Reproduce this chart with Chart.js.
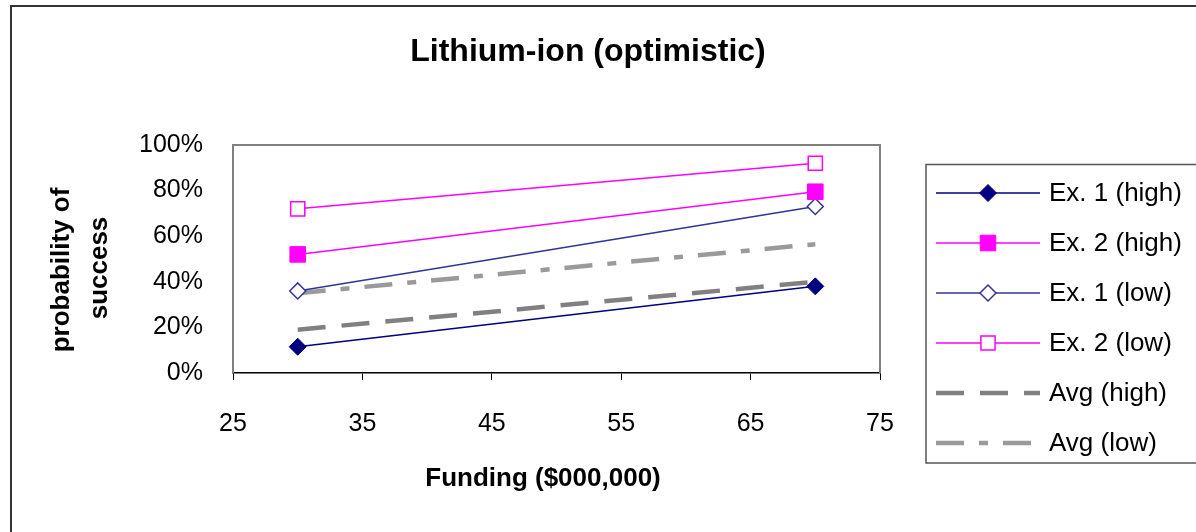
<!DOCTYPE html>
<html>
<head>
<meta charset="utf-8">
<title>Lithium-ion (optimistic)</title>
<script src="https://cdn.jsdelivr.net/npm/chart.js@4/dist/chart.umd.min.js"></script>
<style>
  html, body { margin: 0; padding: 0; background: #ffffff; }
  #wrap { width: 1196px; height: 532px; }
  canvas { display: block; }
</style>
</head>
<body>
<div id="wrap"><canvas id="c" width="1196" height="532"></canvas></div>
<script>
// Funding levels ($000,000) and probability of success (%) per expert scenario
const funding   = [30, 70];
const ex1High   = [11.5, 38];
const ex2High   = [52, 79.5];
const ex1Low    = [36, 73];
const ex2Low    = [72, 92];
const avgHigh   = [19, 40];
const avgLow    = [35, 56.5];

const seriesNames = ['Ex. 1 (high)', 'Ex. 2 (high)', 'Ex. 1 (low)', 'Ex. 2 (low)', 'Avg (high)', 'Avg (low)'];
const xTicks = [25, 35, 45, 55, 65, 75];
const yTicks = [0, 20, 40, 60, 80, 100];

const FONT = 'Arial, "Liberation Sans", Helvetica, sans-serif';

function pts(vals) {
  return vals.map((v, i) => ({ x: funding[i], y: v }));
}

const datasets = [
  { label: seriesNames[0], data: pts(ex1High), borderColor: '#000080', borderWidth: 1.5,
    pointStyle: 'rectRot', pointRadius: 8.5, pointBackgroundColor: '#000080', pointBorderColor: '#000080', pointBorderWidth: 1 },
  { label: seriesNames[1], data: pts(ex2High), borderColor: '#ff00ff', borderWidth: 1.5,
    pointStyle: 'rect', pointRadius: 11, pointBackgroundColor: '#ff00ff', pointBorderColor: '#ff00ff', pointBorderWidth: 1 },
  { label: seriesNames[2], data: pts(ex1Low), borderColor: '#333399', borderWidth: 1.5,
    pointStyle: 'rectRot', pointRadius: 8, pointBackgroundColor: '#ffffff', pointBorderColor: '#333399', pointBorderWidth: 1.5 },
  { label: seriesNames[3], data: pts(ex2Low), borderColor: '#ff00ff', borderWidth: 1.5,
    pointStyle: 'rect', pointRadius: 10, pointBackgroundColor: '#ffffff', pointBorderColor: '#ff00ff', pointBorderWidth: 1.5 },
  { label: seriesNames[4], data: pts(avgHigh), borderColor: '#808080', borderWidth: 4.5,
    borderDash: [28, 16], pointRadius: 0, pointStyle: false },
  { label: seriesNames[5], data: pts(avgLow), borderColor: '#9a9a9a', borderWidth: 4.5,
    borderDash: [28, 15, 9, 15], pointRadius: 0, pointStyle: false }
];
datasets.forEach(d => { d.fill = false; d.tension = 0; d.borderCapStyle = 'butt'; });

// Marker painter used by the legend so its keys match the plotted points
function drawMarker(ctx, ds, x, y) {
  if (!ds.pointStyle) return;
  const r = ds.pointRadius;
  ctx.save();
  ctx.setLineDash([]);
  ctx.beginPath();
  if (ds.pointStyle === 'rectRot') {
    ctx.moveTo(x - r, y); ctx.lineTo(x, y - r); ctx.lineTo(x + r, y); ctx.lineTo(x, y + r); ctx.closePath();
  } else {
    const h = Math.SQRT1_2 * r;
    ctx.rect(x - h, y - h, 2 * h, 2 * h);
  }
  ctx.fillStyle = ds.pointBackgroundColor;
  ctx.fill();
  ctx.lineWidth = ds.pointBorderWidth;
  ctx.strokeStyle = ds.pointBorderColor;
  ctx.stroke();
  ctx.restore();
}

const decor = {
  id: 'decor',
  beforeDatasetsDraw(chart) {
    const { ctx, chartArea: a } = chart;
    ctx.save();
    ctx.strokeStyle = '#808080';
    ctx.lineWidth = 2;
    ctx.beginPath();
    ctx.moveTo(a.left, a.bottom);
    ctx.lineTo(a.left, a.top);
    ctx.lineTo(a.right, a.top);
    ctx.lineTo(a.right, a.bottom);
    ctx.stroke();
    ctx.restore();
  },
  afterDraw(chart) {
    const { ctx } = chart;
    ctx.save();
    // outer frame
    ctx.strokeStyle = '#333333';
    ctx.lineWidth = 2;
    ctx.beginPath();
    ctx.moveTo(11, 540);
    ctx.lineTo(11, 6);
    ctx.lineTo(1200, 6);
    ctx.stroke();

    // title
    ctx.fillStyle = '#000000';
    ctx.textAlign = 'center';
    ctx.textBaseline = 'middle';
    ctx.font = 'bold 32px ' + FONT;
    ctx.fillText('Lithium-ion (optimistic)', 588, 52);

    // x-axis title
    ctx.font = 'bold 26px ' + FONT;
    ctx.fillText('Funding ($000,000)', 543, 479);

    // y-axis title (two lines, rotated)
    ctx.save();
    ctx.translate(62, 270);
    ctx.rotate(-Math.PI / 2);
    ctx.fillText('probability of', 0, 0);
    ctx.restore();
    ctx.save();
    ctx.translate(100, 268);
    ctx.rotate(-Math.PI / 2);
    ctx.fillText('success', 0, 0);
    ctx.restore();

    // legend box
    ctx.strokeStyle = '#555555';
    ctx.lineWidth = 1.5;
    ctx.strokeRect(926, 164.5, 300, 298.5);

    const ds = chart.data.datasets;
    ctx.font = '26px ' + FONT;
    ctx.textAlign = 'left';
    ctx.textBaseline = 'middle';
    for (let i = 0; i < ds.length; i++) {
      const y = 193 + 50 * i;
      ctx.save();
      ctx.strokeStyle = ds[i].borderColor;
      ctx.lineWidth = ds[i].borderWidth;
      ctx.lineCap = 'butt';
      ctx.setLineDash(ds[i].borderDash || []);
      ctx.beginPath();
      ctx.moveTo(936, y);
      ctx.lineTo(1040, y);
      ctx.stroke();
      ctx.restore();
      drawMarker(ctx, ds[i], 988, y);
      ctx.fillStyle = '#000000';
      ctx.fillText(ds[i].label, 1049, y + 1);
    }
    ctx.restore();
  }
};

new Chart(document.getElementById('c'), {
  type: 'line',
  data: { datasets },
  options: {
    responsive: false,
    animation: false,
    devicePixelRatio: 1,
    events: [],
    layout: { padding: { left: 0, top: 145, right: 316, bottom: 29 } },
    plugins: {
      legend: { display: false },
      title: { display: false },
      tooltip: { enabled: false }
    },
    scales: {
      x: {
        type: 'linear',
        min: 25,
        max: 75,
        afterFit(scale) { scale.height = 130; },
        afterBuildTicks(scale) { scale.ticks = xTicks.map(v => ({ value: v })); },
        ticks: { font: { family: FONT, size: 25 }, color: '#000000', padding: 29, maxRotation: 0,
                 callback: v => String(v) },
        grid: { display: true, drawOnChartArea: false, drawTicks: true, tickLength: 7,
                color: '#000000', lineWidth: 1 },
        border: { display: true, color: '#000000', width: 1.5 }
      },
      y: {
        type: 'linear',
        min: 0,
        max: 100,
        afterFit(scale) { scale.width = 233; },
        afterBuildTicks(scale) { scale.ticks = yTicks.map(v => ({ value: v })); },
        ticks: { font: { family: FONT, size: 25 }, color: '#000000', padding: 22,
                 callback: v => v + '%' },
        grid: { display: false },
        border: { display: false }
      }
    }
  },
  plugins: [decor]
});
</script>
</body>
</html>
